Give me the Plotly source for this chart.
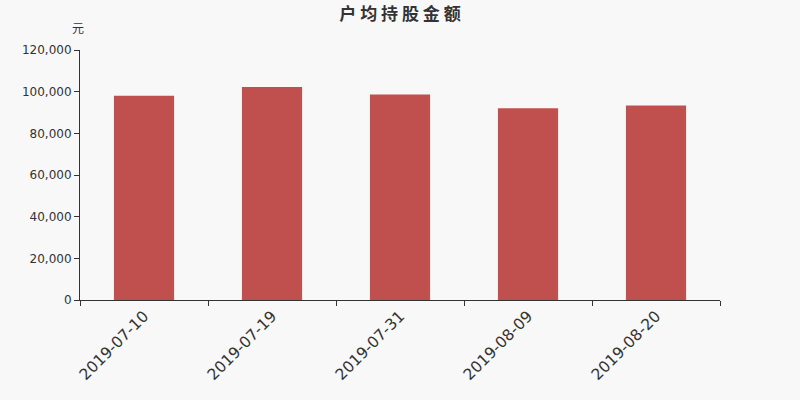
import plotly.graph_objects as go

categories = ["2019-07-10", "2019-07-19", "2019-07-31", "2019-08-09", "2019-08-20"]
values = [98100, 102200, 98700, 92100, 93400]
y_ticks = [0, 20000, 40000, 60000, 80000, 100000, 120000]

fig = go.Figure(go.Bar(x=categories, y=values, marker=dict(color="#c0504d", line=dict(width=0)), width=0.47))

fig.update_layout(
    width=800, height=400,
    paper_bgcolor="#f8f8f8", plot_bgcolor="#f8f8f8",
    margin=dict(l=80, r=80, t=50, b=100),
    font=dict(family="DejaVu Sans, sans-serif", color="#333333"),
    title=dict(text="<b>户 均 持 股 金 额</b>", x=0.5, xanchor="center", y=0.966, yanchor="middle",
               font=dict(family="Noto Sans CJK SC", size=17, color="#333333")),
    showlegend=False,
)
fig.layout.annotations = [dict(text="元", xref="paper", yref="paper", x=-0.003, y=1.09,
                               xanchor="center", yanchor="middle", showarrow=False,
                               font=dict(family="Noto Sans CJK SC", size=12, color="#333333"))]
fig.update_xaxes(type="category", showline=True, linecolor="#333333", linewidth=1,
                 ticks="outside", tickson="boundaries", ticklen=5, tickcolor="#333333",
                 tickangle=-45, tickfont=dict(size=15.5, color="#333333"), showgrid=False)
fig.update_yaxes(range=[0, 120000], tickvals=y_ticks, tickformat=",", showline=True,
                 linecolor="#333333", linewidth=1, ticks="outside", ticklen=5, tickcolor="#333333",
                 tickfont=dict(size=12, color="#333333"), showgrid=False, zeroline=False)

fig.write_html("out.html", config={"displayModeBar": False},
               post_script="document.body.style.margin='0';document.body.style.background='#f8f8f8';")
